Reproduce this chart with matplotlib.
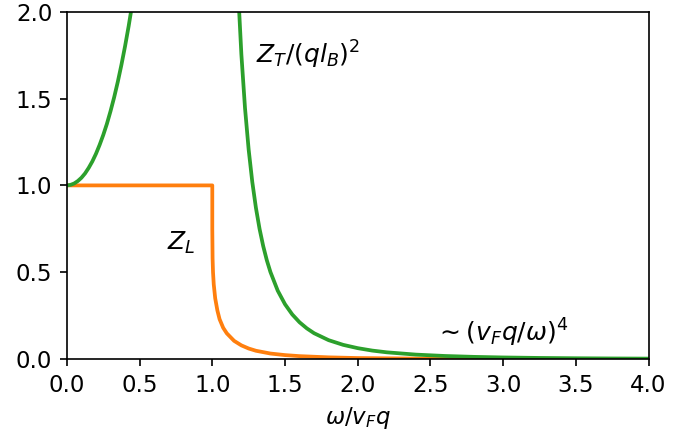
import matplotlib

matplotlib.use("Agg")
import matplotlib.pyplot as plt  # noqa: E402

# Z_T/(q l_B)^2, rising branch (omega < v_F q)
zt_rise_x = [0.0, 0.025, 0.05, 0.075, 0.1, 0.125, 0.15, 0.175, 0.2, 0.225, 0.25,
             0.275, 0.3, 0.325, 0.35, 0.375, 0.4, 0.425, 0.45]
zt_rise_y = [1.0, 1.003, 1.011, 1.025, 1.044, 1.069, 1.101, 1.138, 1.182, 1.233,
             1.290, 1.354, 1.427, 1.507, 1.596, 1.694, 1.801, 1.918, 2.047]

# Z_T/(q l_B)^2, decaying branch
zt_fall_x = [1.175, 1.2, 1.225, 1.25, 1.275, 1.3, 1.325, 1.35, 1.375, 1.4, 1.45,
             1.5, 1.55, 1.6, 1.65, 1.7, 1.8, 1.9, 2.0, 2.1, 2.2, 2.4, 2.6, 2.8,
             3.0, 3.25, 3.5, 3.75, 4.0]
zt_fall_y = [2.163, 1.754, 1.445, 1.207, 1.020, 0.871, 0.750, 0.651, 0.569, 0.501,
             0.394, 0.316, 0.257, 0.212, 0.177, 0.149, 0.109, 0.082, 0.063, 0.049,
             0.039, 0.0258, 0.0179, 0.0128, 0.0094, 0.0066, 0.0048, 0.0036, 0.0027]

# Z_L
zl_x = [0.0, 1.0, 1.0, 1.002, 1.005, 1.01, 1.02, 1.035, 1.05, 1.075, 1.1, 1.15,
        1.2, 1.25, 1.3, 1.4, 1.5, 1.6, 1.8, 2.0, 2.5, 3.0, 3.5, 4.0]
zl_y = [1.0, 1.0, 0.75, 0.58, 0.50, 0.43, 0.35, 0.28, 0.23, 0.18, 0.148, 0.105,
        0.079, 0.061, 0.048, 0.032, 0.023, 0.017, 0.010, 0.006, 0.002, 0.001,
        0.0006, 0.0003]

xticks = [0.0, 0.5, 1.0, 1.5, 2.0, 2.5, 3.0, 3.5, 4.0]
yticks = [0.0, 0.5, 1.0, 1.5, 2.0]


def main() -> None:
    fig = plt.figure(figsize=(691 / 150, 435 / 150), dpi=150)
    ax = fig.add_axes([0.0968, 0.1745, 0.9385 - 0.0968, 0.9731 - 0.1745])

    ax.plot(zl_x, zl_y, color="tab:orange", lw=1.8)
    ax.plot(zt_rise_x, zt_rise_y, color="tab:green", lw=1.8)
    ax.plot(zt_fall_x, zt_fall_y, color="tab:green", lw=1.8)

    ax.text(1.30, 1.75, r"$Z_T/(ql_B)^2$", fontsize=12, va="center")
    ax.text(0.69, 0.67, r"$Z_L$", fontsize=12, va="center")
    ax.text(2.53, 0.15, r"$\sim (v_Fq/\omega)^4$", fontsize=12, va="center")

    ax.set_xlim(0, 4)
    ax.set_ylim(0, 2)
    ax.set_xticks(xticks)
    ax.set_yticks(yticks)
    ax.tick_params(labelsize=11)
    ax.set_xlabel(r"$\omega/v_Fq$", fontsize=11)

    fig.savefig("out.png", dpi=150)


if __name__ == "__main__":
    main()
